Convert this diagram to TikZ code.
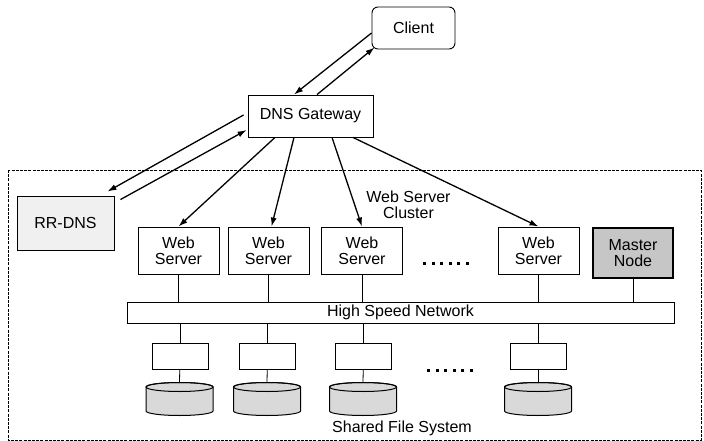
\documentclass[tikz,border=0pt]{standalone}
\usepackage{fontspec}
\setmainfont{Liberation Sans}
\usetikzlibrary{arrows.meta}

% disk: centre x, centre y, name of its top point
\newcommand{\drawdisk}[3]{
	\filldraw[line width=1pt, fill=gray!30] (#1-33.5,#2-12) -- (#1-33.5,#2+12)
		arc[start angle=180, end angle=360, x radius=33.5pt, y radius=4.5pt]
		-- (#1+33.5,#2-12)
		arc[start angle=0, end angle=180, x radius=33.5pt, y radius=4.5pt] -- cycle;
	\draw[line width=1pt] (#1,#2-12) ellipse[x radius=33.5pt, y radius=4.5pt];
	\coordinate (#3) at (#1,#2-16.5);
}

\begin{document}
\begin{tikzpicture}[x=1pt, y=-1pt,
		every node/.style={font=\fontsize{16}{16}\selectfont, align=center, inner sep=0pt},
		box/.style={draw, line width=0.9pt, minimum width=81pt, minimum height=47pt},
		smallbox/.style={draw, line width=0.9pt, minimum width=56pt, minimum height=26pt},
		link/.style={-{Latex[length=9pt,width=6pt]}, line width=1.3pt},
		wire/.style={line width=0.8pt}]
		\useasboundingbox (0,0) rectangle (704,441);
		
		% cluster border
		\draw[dash pattern=on 3pt off 1.2pt, line width=1pt] (8,170) rectangle (701,440);
		
		\node[draw, rounded corners=6pt, line width=0.9pt, minimum width=83pt, minimum height=42pt] (cl) at (413.5,28) {Client};
		\node[draw, line width=0.9pt, minimum width=125pt, minimum height=42pt] (gw) at (310.5,116) {DNS Gateway};
		\node[draw, line width=0.9pt, fill=gray!12, minimum width=97pt, minimum height=54pt] (rr) at (65.5,223) {RR-DNS};
		
		\node[box] (ws1) at (178.5,250.5) {Web\\Server};
		\node[box] (ws2) at (268.5,250.5) {Web\\Server};
		\node[box] (ws3) at (362,250.5) {Web\\Server};
		\node[box] (ws4) at (538.5,250.5) {Web\\Server};
		\node[box, fill=gray!45, line width=1.2pt, minimum width=80pt, minimum height=50pt] (ms) at (633,253) {Master\\Node};
		\node (wsc) at (408.5,205) {Web Server\\Cluster};
		
		\node[draw, line width=0.9pt, minimum width=547pt, minimum height=21pt] (net) at (400.5,312.5) {High Speed Network};
		
		\node[smallbox] (b1) at (180,356) {};
		\node[smallbox] (b2) at (267.5,356) {};
		\node[smallbox] (b3) at (363.5,356) {};
		\node[smallbox] (b4) at (538,356) {};
		
		\drawdisk{179.5}{399}{d1}
		\drawdisk{267}{399}{d2}
		\drawdisk{363}{399}{d3}
		\drawdisk{538}{399}{d4}
		
		\node (sfs) at (402,428) {Shared File System};
		
		% dots
		\foreach \x in {0,...,5} {
			\fill (423+8.6*\x,261.5) rectangle ++(3,3);
			\fill (427+8.6*\x,368.5) rectangle ++(3,3);
		}
		
		% arrows
		\draw[link] ([yshift=-5pt]cl.west) -- ([xshift=-16.5pt]gw.north);
		\draw[link] ([xshift=6.5pt]gw.north) -- ([xshift=3pt,yshift=2pt]cl.south west);
		\draw[link] ([xshift=-4pt,yshift=1pt]gw.west) -- ([xshift=-7pt,yshift=4pt]rr.north east);
		\draw[link] ([xshift=6pt,yshift=-4pt]rr.north east) -- ([xshift=-1pt,yshift=-14pt]gw.west);
		
		\draw[link] ([xshift=-35.5pt]gw.south) -- (ws1.north);
		\draw[link] ([xshift=-16.5pt]gw.south) -- ([xshift=3pt]ws2.north);
		\draw[link] ([xshift=21.5pt]gw.south) -- (ws3.north);
		\draw[link] ([xshift=42.5pt]gw.south) -- (ws4.north);
		
		% wires
		\draw[wire] (ws1) -- (ws1 |- net.north);
		\draw[wire] (ws2) -- (ws2 |- net.north);
		\draw[wire] (ws3) -- (ws3 |- net.north);
		\draw[wire] (ws4) -- (ws4 |- net.north);
		\draw[wire] (ms) -- (ms |- net.north);
		
		\draw[wire] (b1 |- net.south) -- (b1);
		\draw[wire] (b2 |- net.south) -- (b2);
		\draw[wire] (b3 |- net.south) -- (b3);
		\draw[wire] (b4 |- net.south) -- (b4);
		
		\draw[wire] (b1) -- (d1);
		\draw[wire] (b2) -- (d2);
		\draw[wire] (b3) -- (d3);
		\draw[wire] (b4) -- (d4);
		
	\end{tikzpicture}
\end{document}
